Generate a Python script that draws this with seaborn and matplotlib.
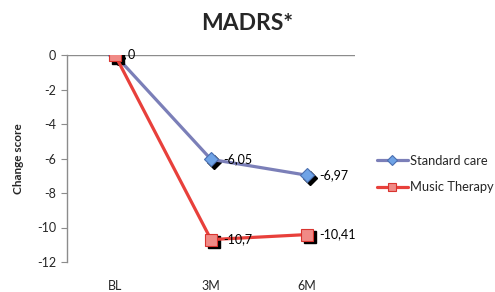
import matplotlib
matplotlib.use('Agg')
import matplotlib.pyplot as plt
import matplotlib.transforms as mtransforms
import pandas as pd
import seaborn as sns

# data
timepoints = ['BL', '3M', '6M']
standard_care = [0, -6.05, -6.97]
music_therapy = [0, -10.7, -10.41]
standard_labels = ['', '-6,05', '-6,97']
music_labels = ['0', '-10,7', '-10,41']

sns.set_style('white')
plt.rcParams['font.family'] = ['Lato', 'DejaVu Sans']
plt.rcParams['axes.unicode_minus'] = False

fig = plt.figure(figsize=(4.95, 2.92), dpi=100)
ax = fig.add_axes([67 / 495, 1 - 262 / 292, 288 / 495, 207 / 292])

series = [
    ('Standard care', standard_care, standard_labels, '#7b7fb8', 'D', '#6fa3e6', '#4a6fb0', 7.5),
    ('Music Therapy', music_therapy, music_labels, '#e8403b', 's', '#f08a86', '#d9342f', 9),
]

shadow = mtransforms.offset_copy(ax.transData, fig=fig, x=2.5, y=-2.5, units='dots')

for i, (name, vals, labels, lc, mk, mfc, mec, ms) in enumerate(series):
    df = pd.DataFrame({'time': timepoints, 'score': vals})
    # black drop shadows behind the markers
    ax.plot(range(len(vals)), vals, linestyle='none', marker=mk, ms=ms, color='black',
            transform=shadow, zorder=3 + 2 * i)
    sns.lineplot(data=df, x='time', y='score', ax=ax, color=lc, lw=2.3, marker=mk,
                 markersize=ms, markerfacecolor=mfc, markeredgecolor=mec,
                 markeredgewidth=0.8, label=name, zorder=4 + 2 * i, sort=False)
    for j, (v, t) in enumerate(zip(vals, labels)):
        if t:
            ax.annotate(t, (j, v), xytext=(9, 0), textcoords='offset points',
                        ha='left', va='center', fontsize=9, color='black', zorder=10)

ax.axhline(0, color='#8c8c8c', lw=1, zorder=1)
ax.set_xlim(-0.5, 2.5)
ax.set_ylim(-12, 0)
ax.set_yticks(range(-12, 1, 2))
ax.tick_params(axis='y', length=4, width=0.8, color='#8c8c8c', labelsize=9, pad=4, left=True)
ax.tick_params(axis='x', length=0, labelsize=9, pad=13)
for s in ['top', 'right', 'bottom']:
    ax.spines[s].set_visible(False)
ax.spines['left'].set_color('#8c8c8c')
ax.spines['left'].set_linewidth(1)
ax.set_xlabel('')
ax.set_ylabel('Change score', fontsize=8.5, fontweight='bold', labelpad=9)

fig.text(0.5, 1 - 23 / 292, 'MADRS*', ha='center', va='center', fontsize=16.5, fontweight='bold')

handles, lbls = ax.get_legend_handles_labels()
ax.get_legend().remove()
fig.legend(handles, lbls, loc='center left', bbox_to_anchor=(374 / 495, 1 - 174 / 292),
           frameon=False, fontsize=9.3, handlelength=2.4, handletextpad=0.15, labelspacing=1.1,
           markerscale=0.7, borderaxespad=0, borderpad=0.2)

fig.savefig('out.png', dpi=100)
